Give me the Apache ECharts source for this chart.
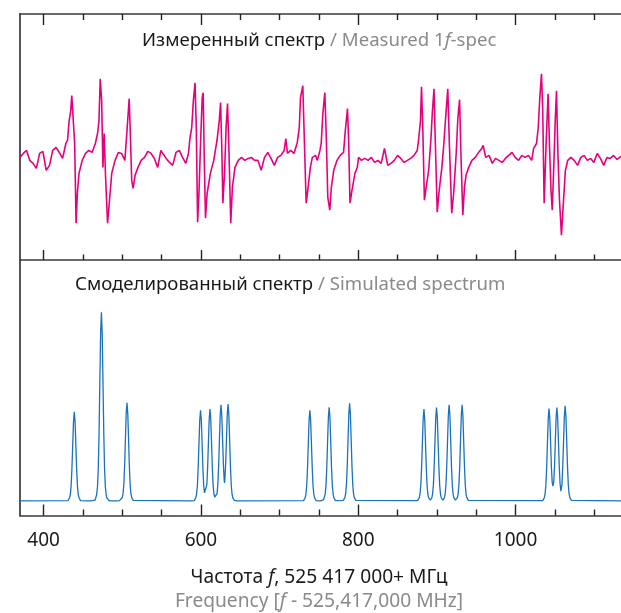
<!DOCTYPE html>
<html>

<head>
    <meta http-equiv="Content-Type" content="text/html; charset=utf-8">
    <title>Measured vs simulated spectrum</title>
    <script src="https://cdn.jsdelivr.net/npm/echarts@6.0.0/dist/echarts.min.js"></script>
    <style>
        html, body { margin: 0; padding: 0; background: #fff; }
        #chart { width: 621px; height: 613px; }
    </style>
</head>

<body>
    <div id="chart"></div>
    <script type="text/javascript">
        // frequency offset, MHz (f - 525 417 000)
        var freqMin = 370;
        var freqMax = 1134;
        var majorTicks = [400, 600, 800, 1000];
        var minorTicks = [450, 500, 550, 650, 700, 750, 850, 900, 950, 1050, 1100];

        // measured 1f spectrum: [frequency, signal a.u.]
        var measuredSpec = [
            [370.0, 0.00], [374.1, 0.04], [378.3, 0.07], [382.5, -0.03], [386.6, -0.06], [390.8, -0.11],
            [395.0, 0.04], [399.1, 0.06], [403.3, -0.13], [407.5, -0.08], [411.6, 0.07], [415.8, 0.10],
            [420.0, 0.05], [424.1, -0.01], [428.3, 0.14], [430.4, 0.17], [432.5, 0.37], [434.5, 0.47],
            [435.8, 0.62], [437.9, 0.60], [439.5, 0.14], [441.3, -0.66], [442.9, -0.36], [445.0, -0.16],
            [449.1, -0.03], [453.3, 0.04], [457.5, 0.07], [461.6, 0.05], [465.8, 0.14], [468.8, 0.25],
            [470.4, 0.37], [472.0, 0.79], [473.8, 0.57], [475.4, -0.10], [477.0, 0.24], [478.8, -0.20],
            [481.3, -0.66], [483.8, -0.43], [486.6, -0.16], [490.8, -0.03], [495.0, 0.05], [499.1, 0.04],
            [503.3, -0.03], [505.4, 0.20], [507.5, 0.44], [508.8, 0.59], [510.4, 0.20], [512.0, -0.23],
            [513.8, -0.31], [516.3, -0.18], [520.0, -0.10], [524.1, -0.03], [528.3, 0.00], [532.5, 0.06],
            [536.6, 0.04], [540.8, -0.01], [545.0, -0.10], [549.1, 0.07], [551.6, 0.04], [555.8, -0.01],
            [560.0, -0.05], [564.1, -0.08], [568.3, 0.05], [572.5, 0.07], [576.6, 0.00], [580.8, -0.06],
            [584.1, 0.04], [586.2, 0.20], [588.3, 0.30], [590.4, 0.57], [592.5, 0.75], [594.1, 0.30],
            [595.8, -0.65], [597.5, -0.36], [599.5, 0.14], [601.6, 0.60], [602.9, 0.65], [604.1, 0.04],
            [605.8, -0.61], [607.9, -0.36], [612.0, -0.16], [616.3, -0.03], [620.4, 0.17], [623.3, 0.37],
            [625.0, 0.55], [626.6, 0.07], [627.9, -0.46], [630.0, -0.16], [632.0, 0.30], [633.8, 0.54],
            [635.4, 0.14], [637.9, -0.66], [640.0, -0.30], [643.3, -0.10], [647.5, -0.03], [651.6, 0.00],
            [655.8, -0.03], [660.0, -0.01], [664.1, 0.00], [668.3, -0.03], [672.5, -0.03], [676.6, -0.13],
            [680.8, 0.00], [685.0, 0.05], [689.1, -0.01], [693.3, -0.08], [697.5, 0.00], [701.6, 0.02],
            [705.8, 0.07], [707.9, 0.19], [710.0, 0.04], [714.1, 0.07], [718.3, 0.04], [722.5, 0.15],
            [725.0, 0.30], [726.6, 0.60], [729.5, 0.72], [731.6, 0.14], [733.8, -0.46], [735.8, -0.33],
            [739.1, -0.10], [741.6, 0.00], [745.8, 0.02], [747.9, -0.03], [751.3, 0.07], [752.9, 0.14],
            [755.0, 0.44], [757.5, 0.65], [759.1, 0.27], [761.3, -0.40], [763.8, -0.53], [765.8, -0.30],
            [768.8, -0.13], [772.9, -0.03], [777.0, 0.02], [781.3, 0.05], [783.3, 0.25], [786.3, 0.49],
            [787.9, 0.14], [789.5, -0.46], [792.0, -0.33], [795.8, -0.16], [798.8, -0.10], [800.4, 0.00],
            [804.1, -0.03], [808.3, -0.01], [812.5, -0.03], [816.6, 0.00], [820.8, -0.05], [825.0, -0.03],
            [829.1, -0.06], [833.3, 0.09], [837.5, -0.08], [841.6, -0.06], [845.8, -0.03], [850.0, 0.02],
            [854.1, -0.01], [858.3, -0.05], [862.5, -0.03], [866.6, -0.01], [870.8, 0.02], [875.0, 0.07],
            [877.0, 0.20], [879.1, 0.37], [880.4, 0.71], [882.0, 0.30], [884.1, -0.43], [886.3, -0.30],
            [889.5, -0.13], [892.5, 0.20], [894.1, 0.44], [896.3, 0.69], [897.9, 0.17], [900.4, -0.55],
            [902.9, -0.33], [906.3, -0.10], [908.8, 0.14], [910.8, 0.37], [913.8, 0.69], [915.8, 0.14],
            [918.8, -0.56], [921.3, -0.36], [922.9, -0.16], [924.5, 0.04], [926.6, 0.39], [928.8, 0.58],
            [930.4, 0.07], [932.9, -0.58], [935.0, -0.30], [937.0, -0.18], [940.4, -0.10], [944.5, -0.03],
            [948.8, 0.00], [952.9, 0.05], [957.0, 0.09], [958.8, 0.12], [962.0, 0.00], [966.3, 0.02],
            [970.4, -0.06], [974.5, -0.01], [978.8, -0.03], [982.9, -0.05], [987.0, -0.01], [991.3, 0.02],
            [995.4, 0.05], [999.5, 0.00], [1003.8, -0.03], [1007.9, 0.02], [1012.0, 0.00], [1016.3, 0.02],
            [1020.4, -0.03], [1022.9, 0.09], [1026.6, 0.14], [1028.8, 0.30], [1030.8, 0.60], [1032.9, 0.84],
            [1034.5, 0.47], [1036.3, -0.46], [1038.8, 0.14], [1041.3, 0.64], [1042.9, 0.17], [1045.0, -0.33],
            [1046.6, -0.53], [1048.8, -0.03], [1050.4, 0.37], [1052.0, 0.67], [1053.8, 0.04], [1055.8, -0.43],
            [1058.3, -0.78], [1060.4, -0.50], [1063.3, -0.13], [1066.3, -0.03], [1070.4, 0.00], [1074.5, -0.03],
            [1078.8, -0.08], [1082.9, 0.00], [1087.0, 0.02], [1091.3, -0.03], [1095.4, -0.01], [1099.5, -0.05],
            [1103.8, 0.04], [1107.9, -0.01], [1112.0, -0.08], [1116.3, 0.00], [1120.4, -0.01], [1124.5, 0.02],
            [1129.0, -0.02], [1134.0, 0.01]
        ];

        // simulated spectrum: [frequency, intensity]
        var simulatedSpec = [
            [370, 0],
            [431, 0.002], [432, 0.007], [433, 0.017], [434, 0.035], [435, 0.080], [436, 0.170], [437, 0.297],
            [438, 0.420], [439, 0.472], [440, 0.420], [441, 0.297], [442, 0.170], [443, 0.080], [444, 0.035],
            [445, 0.017], [446, 0.007], [447, 0.002],
            [456.5, 0], [458, 0.008], [459.5, 0],
            [465.5, 0.005], [466.5, 0.015], [467.5, 0.035], [468.5, 0.075], [469.5, 0.17], [470.5, 0.36],
            [471.5, 0.63], [472.5, 0.89], [473.5, 1.0], [474.5, 0.89], [475.5, 0.63], [476.5, 0.36],
            [477.5, 0.17], [478.5, 0.075], [479.5, 0.035], [480.5, 0.015], [481.5, 0.005],
            [483.5, 0.001], [485, 0.008], [486.5, 0.001], [493.5, 0.001], [495, 0.008], [496.5, 0.002],
            [498, 0.003], [499, 0.008], [500, 0.018], [501, 0.039], [502, 0.088], [503, 0.187], [504, 0.328],
            [505, 0.463], [506, 0.52], [507, 0.463], [508, 0.328], [509, 0.187], [510, 0.088], [511, 0.039],
            [512, 0.018], [513, 0.008], [514, 0.003],
            [584.5, 0], [586, 0.008], [587.5, 0.001],
            [591.5, 0.002], [592.5, 0.007], [593.5, 0.017], [594.5, 0.036], [595.5, 0.082], [596.5, 0.173],
            [597.5, 0.303], [598.5, 0.428], [599.5, 0.481], [600.5, 0.428], [601.5, 0.303], [602.5, 0.173],
            [603.5, 0.084], [604.5, 0.043], [605.5, 0.034], [606.5, 0.044], [607.5, 0.085], [608.5, 0.175],
            [609.5, 0.307], [610.5, 0.433], [611.5, 0.487], [612.5, 0.433], [613.5, 0.307], [614.5, 0.175],
            [615.5, 0.083], [616.5, 0.038], [617.5, 0.020], [618.5, 0.015], [619.5, 0.020], [620.5, 0.039],
            [621.5, 0.087], [622.5, 0.184], [623.5, 0.321], [624.5, 0.454], [625.5, 0.51], [626.5, 0.457],
            [627.5, 0.329], [628.5, 0.202], [629.5, 0.115], [630, 0.095], [630.5, 0.115], [631.5, 0.203],
            [632.5, 0.331], [633.5, 0.460], [634.5, 0.513], [635.5, 0.457], [636.5, 0.323], [637.5, 0.185],
            [638.5, 0.087], [639.5, 0.038], [640.5, 0.018], [641.5, 0.008], [642.5, 0.003],
            [646, 0.001], [647.5, 0.007], [649, 0],
            [730.5, 0.002], [731.5, 0.007], [732.5, 0.017], [733.5, 0.036], [734.5, 0.082], [735.5, 0.173],
            [736.5, 0.303], [737.5, 0.428], [738.5, 0.481], [739.5, 0.428], [740.5, 0.303], [741.5, 0.173],
            [742.5, 0.082], [743.5, 0.036], [744.5, 0.017], [745.5, 0.007], [746.5, 0.002],
            [749.5, 0.001], [751, 0.007], [752.5, 0.001],
            [755, 0.002], [756, 0.007], [757, 0.017], [758, 0.037], [759, 0.084], [760, 0.179], [761, 0.313],
            [762, 0.442], [763, 0.497], [764, 0.442], [765, 0.313], [766, 0.179], [767, 0.084], [768, 0.037],
            [769, 0.017], [770, 0.007], [771, 0.002],
            [781, 0.003], [782, 0.008], [783, 0.018], [784, 0.039], [785, 0.088], [786, 0.186], [787, 0.326],
            [788, 0.460], [789, 0.517], [790, 0.460], [791, 0.326], [792, 0.186], [793, 0.088], [794, 0.039],
            [795, 0.018], [796, 0.008], [797, 0.003],
            [875.5, 0.002], [876.5, 0.007], [877.5, 0.017], [878.5, 0.037], [879.5, 0.083], [880.5, 0.175],
            [881.5, 0.307], [882.5, 0.433], [883.5, 0.487], [884.5, 0.433], [885.5, 0.307], [886.5, 0.175],
            [887.5, 0.083], [888.5, 0.037], [889.5, 0.017], [890.5, 0.007], [891.5, 0.004],
            [892.5, 0.007], [893.5, 0.017], [894.5, 0.037], [895.5, 0.084], [896.5, 0.178], [897.5, 0.312],
            [898.5, 0.441], [899.5, 0.495], [900.5, 0.441], [901.5, 0.312], [902.5, 0.178], [903.5, 0.084],
            [904.5, 0.037], [905.5, 0.017], [906.5, 0.007], [907.5, 0.004],
            [908.5, 0.008], [909.5, 0.018], [910.5, 0.038], [911.5, 0.087], [912.5, 0.184], [913.5, 0.321],
            [914.5, 0.454], [915.5, 0.51], [916.5, 0.454], [917.5, 0.321], [918.5, 0.184], [919.5, 0.087],
            [920.5, 0.038], [921.5, 0.018], [922.5, 0.008], [923.5, 0.004],
            [925, 0.008], [926, 0.018], [927, 0.038], [928, 0.087], [929, 0.184], [930, 0.321], [931, 0.454],
            [932, 0.51], [933, 0.454], [934, 0.321], [935, 0.184], [936, 0.087], [937, 0.038], [938, 0.018],
            [939, 0.008], [940, 0.003],
            [1034.5, 0.002], [1035.5, 0.007], [1036.5, 0.017], [1037.5, 0.037], [1038.5, 0.083], [1039.5, 0.176],
            [1040.5, 0.309], [1041.5, 0.436], [1042.5, 0.49], [1043.5, 0.436], [1044.5, 0.311], [1045.5, 0.183],
            [1046.5, 0.100], [1047.5, 0.078], [1048.5, 0.101], [1049.5, 0.185], [1050.5, 0.314], [1051.5, 0.441],
            [1052.5, 0.495], [1053.5, 0.441], [1054.5, 0.314], [1055.5, 0.183], [1056.5, 0.095], [1057.5, 0.052],
            [1058, 0.045], [1058.5, 0.052], [1059, 0.086], [1060, 0.189], [1061, 0.320], [1062, 0.449],
            [1063, 0.505], [1064, 0.449], [1065, 0.318], [1066, 0.182], [1067, 0.086], [1068, 0.038],
            [1069, 0.018], [1070, 0.008], [1071, 0.003],
            [1134, 0]
        ];

        var font = 'Noto Sans';
        var dark = '#1a1a1a';
        var grey = '#8a8a8a';
        var frameColor = '#3a3a3a';

        function txt(color, size, italic) {
            return {
                color: color, fontFamily: font, fontSize: size, fontWeight: 'normal',
                fontStyle: italic ? 'italic' : 'normal'
            };
        }

        function ticksAxis(gridIndex, position, values, length, showLine, labels) {
            return {
                type: 'value',
                gridIndex: gridIndex,
                position: position,
                min: freqMin,
                max: freqMax,
                axisLine: { show: showLine, onZero: false, lineStyle: { color: frameColor, width: 1.6 } },
                axisTick: { show: true, inside: true, length: length, customValues: values,
                    lineStyle: { color: '#222', width: 1.4 } },
                axisLabel: labels ? {
                    show: true, customValues: values, margin: 16, color: dark,
                    fontFamily: font, fontSize: 19,
                    formatter: function (v) { return String(v); }
                } : { show: false },
                splitLine: { show: false }
            };
        }

        var chart = echarts.init(document.getElementById('chart'));
        var option = {
            animation: false,
            backgroundColor: '#fff',
            title: [
                {
                    text: '{d|Измеренный спектр} {g|/ Measured 1}{gi|f}{g|-spec}',
                    left: 142, top: 31, padding: 0,
                    textStyle: { fontWeight: 'normal', rich: {
                        d: txt(dark, 18.6), g: txt(grey, 18.6), gi: txt(grey, 18.6, true)
                    } }
                },
                {
                    text: '{d|Смоделированный спектр} {g|/ Simulated spectrum}',
                    left: 75, top: 275, padding: 0,
                    textStyle: { fontWeight: 'normal', rich: { d: txt(dark, 18.6), g: txt(grey, 18.6) } }
                },
                {
                    text: '{d|Частота }{di|f}{d|, 525 417 000+ МГц}',
                    left: 319, top: 568, padding: 0, textAlign: 'center',
                    textStyle: { fontWeight: 'normal', rich: { d: txt(dark, 19.2), di: txt(dark, 19.2, true) } }
                },
                {
                    text: '{g|Frequency [}{gi|f}{g| - 525,417,000 MHz]}',
                    left: 319, top: 592, padding: 0, textAlign: 'center',
                    textStyle: { fontWeight: 'normal', rich: { g: txt(grey, 19.2), gi: txt(grey, 19.2, true) } }
                }
            ],
            grid: [
                { left: 20, top: 14, width: 611, height: 246 },
                { left: 20, top: 14, width: 611, height: 246 },
                { left: 20, top: 260, width: 611, height: 255.5 },
                { left: 20, top: 260, width: 611, height: 255.5 }
            ],
            xAxis: [
                ticksAxis(0, 'top', majorTicks, 11, true, false),
                ticksAxis(0, 'bottom', majorTicks, 10, true, false),
                ticksAxis(1, 'top', minorTicks, 6, false, false),
                ticksAxis(1, 'bottom', minorTicks, 5.5, false, false),
                ticksAxis(2, 'bottom', majorTicks, 11, true, true),
                ticksAxis(3, 'bottom', minorTicks, 6, false, false)
            ],
            yAxis: [
                {
                    type: 'value', gridIndex: 0, min: -1.03, max: 1.44,
                    axisLine: { show: true, lineStyle: { color: '#555', width: 2 } },
                    axisTick: { show: false }, axisLabel: { show: false }, splitLine: { show: false }
                },
                { type: 'value', gridIndex: 1, show: false },
                {
                    type: 'value', gridIndex: 2, min: -0.077, max: 1.277,
                    axisLine: { show: true, lineStyle: { color: '#555', width: 2 } },
                    axisTick: { show: false }, axisLabel: { show: false }, splitLine: { show: false }
                },
                { type: 'value', gridIndex: 3, show: false }
            ],
            series: [
                {
                    name: 'Measured 1f-spec',
                    type: 'line',
                    xAxisIndex: 0,
                    yAxisIndex: 0,
                    showSymbol: false,
                    data: measuredSpec,
                    lineStyle: { color: '#e6007e', width: 1.6 }
                },
                {
                    name: 'Simulated spectrum',
                    type: 'line',
                    xAxisIndex: 4,
                    yAxisIndex: 2,
                    showSymbol: false,
                    data: simulatedSpec,
                    lineStyle: { color: '#1a72be', width: 1.3 }
                }
            ]
        };

        chart.setOption(option);
    </script>
</body>

</html>
